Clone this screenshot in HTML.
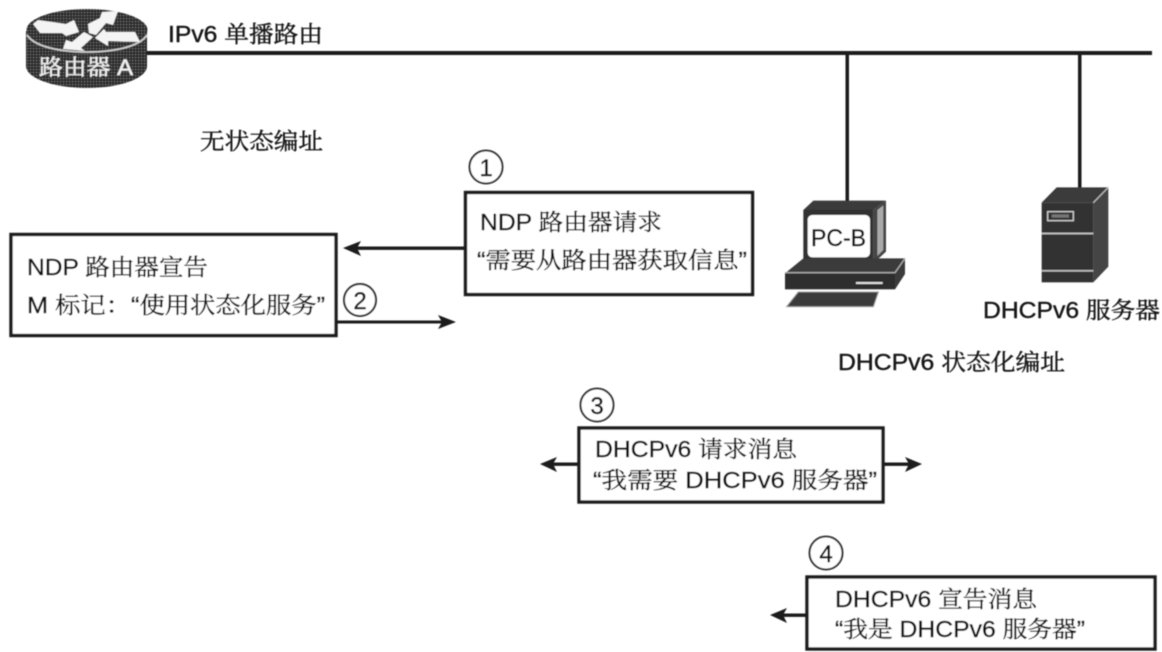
<!DOCTYPE html>
<html lang="zh">
<head>
<meta charset="utf-8">
<title>DHCPv6</title>
<style>
html,body{margin:0;padding:0;background:#fff;width:1162px;height:652px;overflow:hidden}
svg{display:block}
text{font-family:"Liberation Sans","Noto Serif CJK SC",sans-serif;font-size:23px;fill:#161616;stroke:#161616;stroke-width:.4px}
</style>
</head>
<body>
<svg width="1162" height="652" viewBox="0 0 1162 652" xmlns="http://www.w3.org/2000/svg">
<defs>
<pattern id="d" width="3" height="3" patternUnits="userSpaceOnUse">
<rect width="3" height="3" fill="#2c2c2c"/>
<rect x="0" y="0" width="1.2" height="1.2" fill="#7a7a7a"/>
</pattern>
<filter id="b" x="-2%" y="-2%" width="104%" height="104%"><feGaussianBlur stdDeviation="0.55"/></filter>
</defs>
<g filter="url(#b)">
<!-- Network lines -->
<rect x="146" y="51" width="1006" height="4" fill="#1c1c1c"/>
<rect x="845.5" y="53" width="3.5" height="150" fill="#1c1c1c"/>
<rect x="1078" y="53" width="3.5" height="135" fill="#1c1c1c"/>

<!-- Router -->
<g>
<path d="M26 31 V66 C26 78 53 88 87 88 C121 88 147 78 147 66 V31 Z" fill="url(#d)"/>
<ellipse cx="87" cy="30" rx="60.5" ry="21" fill="url(#d)"/>
<path d="M27 35 C34 46 58 52 87 52 C116 52 140 46 147 35" fill="none" stroke="#ccc" stroke-width="1.8"/>
<g fill="#f4f4f4">
<polygon points="33,24 38,20 66,24 74,20 79,32 66,36 62,33 40,33"/>
<polygon points="88,24 100,18 102,12 118,11 113,25 106,23 96,35 89,33"/>
<polygon points="95,38 104,29 106,32 135,32 140,42 108,41 108,46"/>
<polygon points="63,49 66,40 72,42 84,32 93,37 81,48 85,51"/>
</g>
<text x="39" y="75" textLength="94" lengthAdjust="spacingAndGlyphs" style="fill:#f0f0f0;stroke:#f0f0f0;font-size:22px">路由器 A</text>
</g>

<!-- Labels -->
<text x="168" y="42" textLength="155" lengthAdjust="spacingAndGlyphs">IPv6 单播路由</text>
<text x="200" y="149" textLength="123" lengthAdjust="spacingAndGlyphs">无状态编址</text>
<text x="983" y="318" textLength="177" lengthAdjust="spacingAndGlyphs">DHCPv6 服务器</text>
<text x="838" y="370" textLength="227" lengthAdjust="spacingAndGlyphs">DHCPv6 状态化编址</text>

<!-- PC-B -->
<g transform="translate(770,180) scale(.33333)">
<polygon points="100,90 130,62 348,62 310,90" fill="url(#d)"/>
<polygon points="310,90 348,62 348,215 310,250" fill="#444"/>
<path d="M322 90 L340 76 V210 L322 228 Z" fill="#aaa"/>
<rect x="100" y="90" width="210" height="160" fill="#333"/>
<rect x="113" y="105" width="187" height="127" rx="14" fill="#fff"/>
<polygon points="45,280 100,235 405,235 375,277" fill="#3a3a3a"/>
<rect x="45" y="278" width="330" height="50" fill="#2e2e2e"/>
<polygon points="375,277 405,235 405,282 375,328" fill="#3a3a3a"/>
<path d="M45 278 H375 L405 235" fill="none" stroke="#aaa" stroke-width="4"/>
<rect x="258" y="306" width="80" height="6" fill="#ddd"/>
<polygon points="50,380 85,336 325,336 310,380" fill="#3a3a3a" stroke="#999" stroke-width="3"/>
</g>
<text x="811" y="246" textLength="55" lengthAdjust="spacingAndGlyphs" style="font-size:24px;fill:#111">PC-B</text>

<!-- Server -->
<g transform="translate(770,180) scale(.33333)">
<polygon points="815,68 860,22 1015,22 970,68" fill="#3a3a3a"/>
<polygon points="970,68 1015,22 1015,260 970,307" fill="#444"/>
<path d="M970 68 L1015 22" stroke="#bbb" stroke-width="4"/>
<rect x="815" y="68" width="155" height="239" fill="#333"/>
<rect x="815" y="158" width="155" height="5" fill="#ccc"/>
<rect x="815" y="270" width="155" height="5" fill="#bbb"/>
<rect x="833" y="95" width="77" height="27" fill="none" stroke="#ccc" stroke-width="4"/>
<rect x="845" y="103" width="52" height="10" fill="#777"/>
</g>

<!-- Box 1 -->
<rect x="465.5" y="192.5" width="287" height="102" fill="#fff" stroke="#1c1c1c" stroke-width="3.4"/>
<text x="480" y="230" textLength="182" lengthAdjust="spacingAndGlyphs">NDP 路由器请求</text>
<text x="477" y="268" textLength="270" lengthAdjust="spacingAndGlyphs">“需要从路由器获取信息”</text>
<circle cx="486" cy="167" r="16.5" fill="#fff" stroke="#333" stroke-width="2"/>
<text x="486" y="176" text-anchor="middle" style="font-size:24px">1</text>

<!-- Box 2 -->
<rect x="11" y="234.5" width="325" height="101" fill="#fff" stroke="#1c1c1c" stroke-width="3.4"/>
<text x="27" y="275" textLength="181" lengthAdjust="spacingAndGlyphs">NDP 路由器宣告</text>
<text x="27" y="313" textLength="298" lengthAdjust="spacingAndGlyphs">M 标记：“使用状态化服务”</text>
<circle cx="360" cy="300" r="16" fill="#fff" stroke="#333" stroke-width="2"/>
<text x="360" y="309" text-anchor="middle" style="font-size:24px">2</text>

<!-- Arrows 1 & 2 -->
<rect x="355" y="246.5" width="110" height="3.4" fill="#1c1c1c"/>
<polygon points="343,248 361,241 357,248 361,256" fill="#1c1c1c"/>
<rect x="337" y="320.5" width="105" height="3" fill="#1c1c1c"/>
<polygon points="456,322 438,315 442,322 438,329" fill="#1c1c1c"/>

<!-- Box 3 -->
<rect x="579" y="428" width="304" height="74" fill="#fff" stroke="#1c1c1c" stroke-width="3.4"/>
<text x="595" y="457" textLength="202" lengthAdjust="spacingAndGlyphs">DHCPv6 请求消息</text>
<text x="593" y="488" textLength="284" lengthAdjust="spacingAndGlyphs">“我需要 DHCPv6 服务器”</text>
<circle cx="597" cy="405" r="16.5" fill="#fff" stroke="#333" stroke-width="2"/>
<text x="597" y="414" text-anchor="middle" style="font-size:24px">3</text>
<rect x="550" y="462.5" width="29" height="3.4" fill="#1c1c1c"/>
<polygon points="540,464 557,457 553,464 557,472" fill="#1c1c1c"/>
<rect x="884" y="462.5" width="28" height="3.4" fill="#1c1c1c"/>
<polygon points="922,464 905,457 909,464 905,472" fill="#1c1c1c"/>

<!-- Box 4 -->
<rect x="807" y="577" width="348" height="72" fill="#fff" stroke="#1c1c1c" stroke-width="3.4"/>
<text x="835" y="607" textLength="202" lengthAdjust="spacingAndGlyphs">DHCPv6 宣告消息</text>
<text x="835" y="637" textLength="250" lengthAdjust="spacingAndGlyphs">“我是 DHCPv6 服务器”</text>
<circle cx="826" cy="553" r="16.5" fill="#fff" stroke="#333" stroke-width="2"/>
<text x="826" y="562" text-anchor="middle" style="font-size:24px">4</text>
<rect x="780" y="613.5" width="27" height="3.4" fill="#1c1c1c"/>
<polygon points="770,615 787,608 783,615 787,623" fill="#1c1c1c"/>
</g>
</svg>
</body>
</html>
